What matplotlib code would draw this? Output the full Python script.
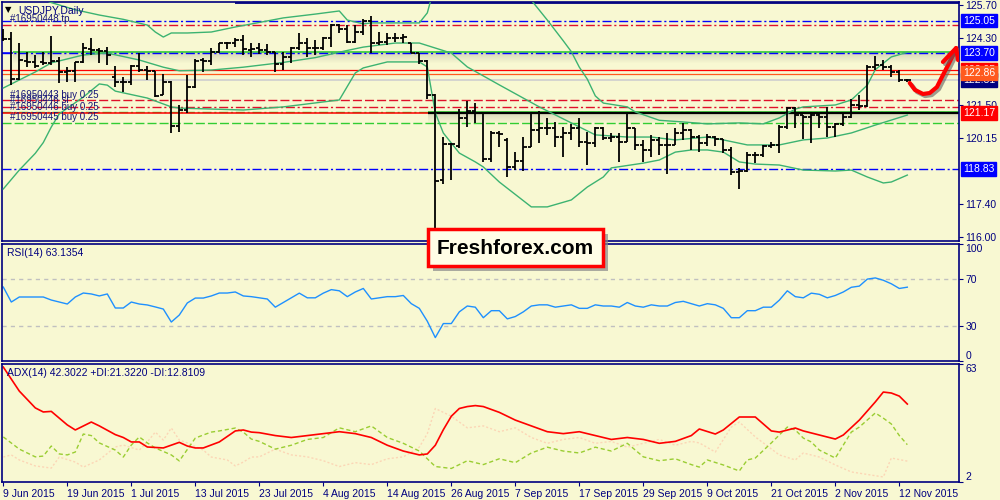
import numpy as np
import matplotlib.pyplot as plt
import matplotlib.patheffects as pe
from matplotlib.patches import Rectangle
from matplotlib.transforms import blended_transform_factory

plt.rcParams['font.family'] = ['Liberation Sans', 'DejaVu Sans']

# ---------------- data ----------------
opens = [124.35, 124.28, 122.61, 123.36, 123.33, 123.33, 123.29, 123.36, 122.91, 122.94,
         123.33, 123.85, 123.82, 123.79, 122.68, 122.49, 122.49, 123.15, 122.98, 122.94,
         121.95, 122.49, 120.64, 121.31, 122.26, 123.40, 123.37, 123.75, 124.10, 124.10,
         124.24, 123.82, 123.92, 123.82, 123.75, 123.22, 123.51, 123.89, 124.13, 123.89,
         123.89, 124.31, 124.86, 124.68, 124.17, 124.56, 125.05, 124.13, 124.17, 124.31,
         124.31, 124.13, 123.71, 123.37, 121.94, 118.38, 119.90, 119.80, 120.97, 121.25,
         121.17, 119.25, 120.33, 120.06, 118.91, 119.19, 119.78, 120.47, 120.54, 120.54,
         120.20, 120.36, 120.54, 119.99, 119.92, 120.54, 120.13, 120.20, 119.99, 120.54,
         119.85, 119.64, 120.06, 119.85, 119.85, 120.36, 120.47, 120.20, 119.94, 120.20,
         120.08, 119.64, 118.73, 118.77, 119.43, 119.43, 119.82, 119.85, 120.61, 121.38,
         121.10, 121.03, 121.10, 121.03, 120.59, 120.73, 121.03, 121.52, 121.48, 123.12,
         123.19, 123.09, 122.91, 122.56]
highs = [124.68, 124.56, 124.10, 123.75, 123.61, 123.72, 124.40, 123.54, 123.12, 123.33,
         124.13, 124.31, 123.89, 123.96, 123.15, 122.68, 123.19, 123.68, 123.15, 122.94,
         122.82, 122.54, 121.52, 122.77, 123.43, 123.47, 123.89, 124.13, 124.17, 124.31,
         124.45, 124.13, 124.13, 124.06, 123.75, 123.72, 123.96, 124.54, 124.31, 124.24,
         124.35, 124.91, 124.91, 124.86, 124.86, 125.10, 125.24, 124.56, 124.52, 124.52,
         124.49, 124.13, 123.71, 123.40, 121.98, 120.20, 119.94, 121.34, 121.70, 121.59,
         121.17, 120.45, 120.45, 120.13, 119.57, 120.20, 121.17, 121.28, 120.96, 120.82,
         120.61, 120.73, 120.96, 120.40, 120.61, 120.59, 120.33, 120.33, 121.17, 120.54,
         120.06, 120.27, 120.20, 120.36, 120.54, 120.75, 120.50, 120.25, 120.31, 120.22,
         120.10, 119.78, 118.87, 119.57, 119.57, 119.85, 119.99, 120.68, 121.42, 121.42,
         121.10, 121.20, 121.17, 121.42, 120.75, 121.17, 121.76, 121.94, 123.19, 123.57,
         123.40, 123.19, 122.98, 122.60]
lows = [124.21, 122.36, 122.56, 123.12, 123.08, 123.19, 123.19, 122.43, 122.49, 122.49,
        123.26, 123.61, 123.26, 123.19, 122.29, 122.08, 122.36, 122.91, 122.56, 121.84,
        121.94, 120.33, 120.40, 121.20, 122.22, 122.91, 123.19, 123.68, 123.85, 123.96,
        123.61, 123.54, 123.65, 123.61, 122.91, 122.98, 123.26, 123.82, 123.51, 123.61,
        123.82, 123.96, 124.52, 124.10, 124.10, 124.45, 123.71, 124.03, 124.03, 124.17,
        124.10, 123.68, 123.23, 121.77, 116.15, 118.20, 118.38, 119.71, 120.59, 120.78,
        119.15, 119.15, 119.78, 118.52, 118.80, 118.77, 119.75, 119.92, 120.27, 119.78,
        119.33, 120.06, 119.78, 119.01, 119.78, 120.06, 119.99, 119.15, 119.99, 119.64,
        119.15, 119.36, 119.43, 118.63, 119.85, 120.06, 119.64, 119.57, 119.81, 119.81,
        119.50, 118.59, 117.99, 118.73, 119.08, 119.36, 119.71, 119.53, 120.50, 120.54,
        120.08, 119.94, 120.54, 120.20, 120.20, 120.64, 120.96, 121.31, 121.45, 122.98,
        122.98, 122.68, 122.49, 122.50]
closes = [124.28, 122.61, 123.40, 123.33, 123.15, 123.29, 123.36, 122.91, 122.94, 123.33,
          123.89, 123.82, 123.79, 123.61, 122.49, 122.49, 123.15, 122.98, 122.95, 121.91,
          122.49, 120.64, 121.31, 122.26, 123.37, 123.37, 123.75, 124.10, 124.10, 124.24,
          123.85, 123.85, 123.82, 123.75, 123.22, 123.51, 123.89, 124.13, 123.89, 123.89,
          124.31, 124.86, 124.68, 124.17, 124.56, 125.05, 124.13, 124.17, 124.31, 124.31,
          124.35, 123.71, 123.37, 121.94, 118.35, 119.90, 119.89, 120.97, 121.25, 121.17,
          119.25, 120.33, 120.31, 118.91, 119.19, 119.78, 120.47, 120.54, 120.54, 120.20,
          120.36, 120.54, 119.99, 119.92, 120.54, 120.13, 120.20, 119.99, 120.54, 119.85,
          119.64, 120.06, 119.85, 119.85, 120.36, 120.47, 120.20, 119.94, 120.20, 120.08,
          119.64, 118.73, 118.77, 119.43, 119.43, 119.82, 119.85, 120.61, 121.38, 121.10,
          121.03, 121.10, 121.03, 120.59, 120.73, 121.03, 121.52, 121.48, 123.12, 123.19,
          123.09, 122.91, 122.56, 122.56]

# Bollinger bands (bar index, price)
bb_up_bars = [0, 3, 6, 9, 12, 15, 18, 19, 20, 21, 23, 26, 29, 35, 39, 42, 43, 45, 46, 52, 53,
              54, 56, 60, 64, 66, 68, 70, 71, 72, 73, 74, 75, 78, 79, 82, 85, 88, 92, 95, 97,
              99, 100, 104, 106, 108, 109, 111, 113]
bb_up = [126.45, 126.2, 125.80, 125.50, 125.28, 125.10, 124.86, 124.57, 124.36, 124.53, 124.53,
         124.57, 124.78, 125.16, 125.32, 125.45, 125.07, 124.91, 124.95, 124.95, 125.37,
         126.6, 127.5, 126.5, 126.1, 125.9, 125.07, 124.2, 123.75, 123.1, 122.6, 121.9, 121.60,
         121.44, 121.23, 120.88, 120.81, 120.73, 120.77, 120.73, 120.98, 121.35, 121.44,
         121.52, 121.73, 122.35, 123.0, 123.53, 123.72]
bb_mid_bars = [0, 4, 6, 10, 13, 17, 20, 22, 26, 30, 35, 39, 43, 45, 49, 52, 54, 56, 58, 62,
               67, 71, 74, 78, 81, 84, 88, 90, 93, 97, 100, 103, 106, 109, 113]
bb_mid = [122.23, 122.90, 123.28, 123.61, 123.69, 123.40, 123.10, 122.95, 122.98, 123.10,
          123.30, 123.50, 123.80, 123.94, 124.11, 124.11, 123.90, 123.69, 123.11, 122.36,
          121.44, 120.77, 120.27, 120.18, 120.18, 120.06, 120.18, 120.06, 119.85, 119.85,
          120.06, 120.14, 120.35, 120.68, 121.10]
bb_low_bars = [0, 2, 4, 5, 6, 7, 10, 12, 13, 14, 18, 21, 22, 30, 35, 42, 44, 45, 48, 52, 53,
               54, 55, 57, 59, 60, 62, 66, 68, 71, 73, 75, 76, 80, 82, 84, 86, 88, 90, 92, 94,
               97, 100, 104, 106, 108, 110, 111, 113]
bb_low = [118.01, 118.80, 119.5, 119.95, 120.6, 121.15, 121.85, 122.40, 122.35, 122.1,
          121.81, 121.44, 121.39, 121.31, 121.44, 121.73, 122.86, 123.07, 123.32, 123.32,
          123.11, 121.19, 120.35, 119.51, 119.14, 118.93, 118.3, 117.26, 117.26, 117.55,
          118.09, 118.51, 118.89, 119.09, 119.22, 119.55, 119.64, 119.64, 119.55, 119.14,
          119.05, 119.01, 118.80, 118.76, 118.80, 118.51, 118.26, 118.30, 118.59]

rsi = [63.2, 50.4, 54.7, 54.7, 54.7, 54.7, 52.1, 50.4, 48.7, 54.7, 58.1, 57.3, 55.6, 57.3,
       45.3, 45.3, 50.4, 48.7, 47.9, 46.2, 44.4, 33.3, 39.3, 49.6, 53.8, 53.8, 55.6, 58.1,
       58.1, 59.0, 55.6,
       55, 54, 53, 46, 50, 54, 58, 54, 54, 58, 61, 60, 55, 59, 62, 53, 54, 55, 55, 56,
       49, 45, 34, 20, 32, 32, 42, 47, 46, 37, 43, 43, 36, 38, 42, 47, 48, 48, 46, 47,
       48, 45, 45, 48, 47, 47, 46, 50, 47, 46, 48, 47, 47, 50, 51, 49, 47, 49, 48, 45,
       37, 37, 43, 43, 46, 46, 52, 60, 55, 54, 58, 57, 54, 56, 59, 63, 64, 70, 71, 69,
       66, 62, 63.1]

adx_bars = [0, 2, 4, 5, 6, 8, 9, 11, 12, 14, 15, 16, 17, 18, 20, 22, 23, 24, 25, 27, 29, 30,
            31, 32, 34, 36, 38, 40, 42, 44, 46, 48, 50, 52, 53, 54, 55, 56, 57, 58, 59, 60,
            62, 64, 66, 68, 70, 72, 74, 76, 78, 80, 82, 84, 86, 87, 89, 90, 92, 94, 96, 97,
            99, 100, 102, 104, 105, 107, 109, 110, 111, 112, 113]
adx = [61.4, 49, 40.3, 38.2, 38.5, 31.5, 28.9, 33.0, 31, 26.5, 25, 22.7, 22.7, 20.1, 19.6,
       22.5, 20.6, 19.6, 19.6, 22.7, 28.4, 28.9, 27.8, 27.5, 26, 25, 26, 27, 28, 27, 25, 21,
       18, 16, 16.5, 21, 29, 36, 40, 41, 41.5, 41, 38, 34, 31, 28, 27, 28, 26, 24, 25, 24,
       22, 23, 26, 29.4, 26.8, 28.9, 35.6, 35.6, 28.4, 27.8, 29.9, 28.4, 26.3, 24.2, 26.3,
       34.0, 43.4, 48.5, 48.0, 46.4, 42.3]
pdi_bars = [0, 2, 4, 5, 6, 7, 8, 9, 10, 11, 12, 14, 15, 16, 17, 18, 19, 21, 22, 24, 25, 26,
            27, 29, 30, 31, 32, 34, 36, 38, 40, 42, 44, 46, 48, 50, 52, 53, 54, 56, 58, 60,
            62, 64, 66, 68, 70, 72, 74, 76, 78, 80, 82, 84, 86, 87, 88, 90, 92, 93, 94, 96,
            98, 99, 100, 101, 102, 104, 106, 107, 109, 110, 111, 112, 113]
pdi = [25.3, 19, 15, 15.4, 20.6, 16.5, 16, 17.5, 26.8, 26, 22.2, 18.5, 14.9, 21.1, 25.3,
       22.2, 19.6, 16, 12.9, 24.7, 26.3, 27.8, 28.4, 29.9, 27.8, 24.2, 23, 19, 21, 24, 25,
       30, 28, 31, 25, 22, 18, 14, 10, 9, 13, 11, 14, 12, 17, 20, 18, 17, 20, 18, 22, 15,
       13, 14, 11, 9.7, 13.4, 10.8, 7.7, 13.4, 14.4, 22.2, 30.4, 28.9, 24.7, 22.7, 18.5,
       14.4, 27.8, 30.4, 37.7, 35, 32, 26, 21.3]
mdi_bars = [0, 1, 2, 4, 6, 7, 9, 10, 12, 14, 15, 17, 18, 19, 20, 21, 22, 23, 25, 26, 28, 29,
            30, 31, 32, 34, 36, 38, 40, 42, 44, 46, 48, 50, 52, 53, 54, 55, 56, 58, 60, 62,
            64, 66, 68, 70, 72, 74, 76, 78, 80, 82, 84, 86, 87, 89, 91, 92, 94, 97, 99, 100,
            102, 104, 106, 110, 111, 113]
mdi = [14.9, 16, 13.4, 10.3, 9.2, 14.9, 12.3, 9.7, 13.4, 20.1, 21.1, 18.5, 22.7, 27.8, 23.7,
       29.9, 23.7, 22.2, 18.5, 14.9, 13.4, 10.3, 12.3, 14.9, 15, 19, 16, 15, 13, 10, 12, 11,
       14, 15, 20, 27, 40, 38, 36, 30, 31, 28, 30, 25, 22, 24, 25, 22, 23, 20, 22, 24, 21,
       23, 22.2, 17.5, 30.4, 33, 25.3, 16, 13.4, 17, 14.9, 10.8, 7.2, 4.6, 14.4, 12.8]

date_labels = ['9 Jun 2015', '19 Jun 2015', '1 Jul 2015', '13 Jul 2015', '23 Jul 2015',
               '4 Aug 2015', '14 Aug 2015', '26 Aug 2015', '7 Sep 2015', '17 Sep 2015',
               '29 Sep 2015', '9 Oct 2015', '21 Oct 2015', '2 Nov 2015', '12 Nov 2015']
price_ticks = [125.70, 124.30, 121.50, 120.15, 117.40, 116.00]

# price label boxes on the right axis: (price, text, colour)
price_boxes = [(125.05, '125.05', '#0000ff'), (123.70, '123.70', '#0000ff'),
               (122.97, '122.95', '#ff0000'), (closes[-1], '122.81', '#000080'),
               (122.86, '122.86', '#ff5a1e'), (121.17, '121.17', '#ff0000'),
               (118.83, '118.83', '#0000ff')]

# order labels (price, text)
order_labels = [(125.11, '#16950448 tp'), (121.94, '#16950443 buy 0.25'),
                (121.73, '#16950446 sl'), (121.44, '#16950446 buy 0.25'),
                (121.02, '#16950445 buy 0.25')]

# hand drawn arrow
arrow_x = [113.3, 113.95, 114.96, 115.8, 116.7, 117.45, 118.1, 118.6, 119.1]
arrow_y = [122.44, 122.15, 121.98, 122.02, 122.27, 122.77, 123.19, 123.53, 123.90]
head_x = [117.45, 119.1, 119.34]
head_y = [123.32, 123.90, 123.40]

# ---------------- drawing ----------------
bg = '#f8f8d2'
navy = '#000080'
W, H = 1000, 500

fig = plt.figure(figsize=(10, 5), dpi=100, facecolor=bg)


def px_axes(top, bottom, left=2, right=959):
    a = fig.add_axes([left / W, 1 - bottom / H, (right - left) / W, (bottom - top) / H])
    a.set_facecolor(bg)
    for s in a.spines.values():
        s.set_color(navy)
        s.set_linewidth(1.2)
    a.set_xlim(-0.1625, 119.46)
    a.yaxis.tick_right()
    a.tick_params(axis='y', direction='out', length=3, color=navy, labelcolor=navy,
                  labelsize=7.5, pad=1.5)
    return a


ax = px_axes(2, 241)
ax_rsi = px_axes(244, 361)
ax_adx = px_axes(364, 482)

xs = np.arange(len(closes))
xr = 119.46
pxp = 1 / 23.92   # one pixel in price units

# ---- main panel ----
ax.set_ylim(115.834, 125.825)
ax.set_xticks([])
ax.set_yticks(price_ticks)
ax.set_yticklabels(['%.2f' % v for v in price_ticks])

dashdot = (0, (6.5, 2, 1.5, 2))
dashed = (0, (6.5, 2.2))

ax.hlines(125.78, 29, xr, color=navy, lw=1.3, zorder=2)
ax.axhline(125.05, color='#0000ff', lw=1, ls=dashdot, zorder=2)
ax.axhline(124.86, color='#e0102a', lw=1, ls=dashdot, zorder=2)
ax.axhline(122.97, color='#ff0000', lw=0.9, zorder=2)
ax.axhline(122.83, color='#ff5a1e', lw=0.9, zorder=2)
ax.axhline(closes[-1], color='#cfcfcf', lw=1.2, zorder=2)
ax.axhline(121.73, color='#e0102a', lw=1, ls=dashed, zorder=2)
ax.axhline(121.44, color='#e0102a', lw=1, ls=dashdot, zorder=2)
ax.axhline(121.21, color='#32cd32', lw=1, ls=dashdot, zorder=2)
ax.axhline(121.17, color='#ff0000', lw=1.1, zorder=2)
ax.axhline(120.75, color='#32cd32', lw=1, ls=dashed, zorder=2)
ax.axhline(118.83, color='#0000ff', lw=1, ls=dashdot, zorder=2)

# shadowed level lines
for level, start in [(123.70, 1.2), (121.17, 53.1)]:
    for k in range(10):
        ax.fill_between([start, xr], level - (k + 1) * pxp, level - k * pxp,
                        color='#404040', alpha=0.16 * (1 - k / 10), lw=0, zorder=1.5)
    for k in range(2):
        ax.fill_between([start, xr], level + (k + 1) * pxp, level + k * pxp,
                        color='#404040', alpha=0.08 * (1 - k / 2), lw=0, zorder=1.5)
ax.hlines(123.70, -0.2, 1.2, color='#0000ff', lw=1.1, zorder=2.5)
ax.axhline(123.70, color='#0000ff', lw=1, ls=dashdot, zorder=2.5)
ax.hlines(123.74, 1.2, xr, color='#32cd32', lw=1.2, zorder=2.4)
ax.hlines(121.23, 53.1, xr, color='#32cd32', lw=1.2, zorder=2.4)
ax.hlines(121.17, 53.1, xr, color='black', lw=1.6, zorder=2.5)

# bollinger bands
for bx, by in [(bb_up_bars, bb_up), (bb_mid_bars, bb_mid), (bb_low_bars, bb_low)]:
    ax.plot(bx, by, color='#3cb371', lw=1.0, zorder=3)

# OHLC bars
ax.vlines(xs, lows, highs, color='black', lw=1.3, zorder=5)
ax.hlines(opens, xs - 0.45, xs, color='black', lw=1.3, zorder=5)
ax.hlines(closes, xs, xs + 0.45, color='black', lw=1.3, zorder=5)

# labels for the orders
tr = blended_transform_factory(ax.transAxes, ax.transData)
for p, t in order_labels:
    ax.text(0.0084, p, t, transform=tr, fontsize=7, color='#141478', va='center',
            ha='left', zorder=6)

# right side price boxes
for z, (p, t, c) in enumerate(price_boxes):
    ax.text(1.0042, p, t, transform=tr, fontsize=7.5, color='white', va='center',
            ha='left', clip_on=False, zorder=10 + z,
            bbox=dict(boxstyle='square,pad=0.18', fc=c, ec=c))

# red hand-drawn arrow
shadow = [pe.SimpleLineShadow(offset=(1.5, -1.5), shadow_color='#606060', alpha=0.6),
          pe.Normal()]
ax.plot(arrow_x, arrow_y, color='#ff0000', lw=3.0, solid_capstyle='round',
        solid_joinstyle='round', path_effects=shadow, zorder=12)
ax.plot(head_x, head_y, color='#ff0000', lw=3.0, solid_capstyle='round',
        solid_joinstyle='round', path_effects=shadow, zorder=12)

# ---- RSI panel ----
ax_rsi.set_ylim(0, 100)
ax_rsi.set_xticks([])
ax_rsi.axhline(70, color='#c0c0c0', lw=1, ls=(0, (3, 3)))
ax_rsi.axhline(30, color='#c0c0c0', lw=1, ls=(0, (3, 3)))
ax_rsi.plot(xs, rsi, color='#1e90ff', lw=1.0)
ax_rsi.set_yticks([0, 30, 70, 100])
ax_rsi.set_yticklabels(['0', '30', '70', '100'])
labs = ax_rsi.get_yticklabels()
labs[0].set_va('bottom')
labs[-1].set_va('top')

# ---- ADX panel ----
ax_adx.set_ylim(2, 63)
ax_adx.plot(mdi_bars, mdi, color='#fcd6b6', lw=1.0, ls=(0, (1.5, 1.5)))
ax_adx.plot(pdi_bars, pdi, color='#9acd32', lw=1.0, ls=(0, (3, 2)))
ax_adx.plot(adx_bars, adx, color='#ff0000', lw=1.2)
ax_adx.set_yticks([2, 63])
ax_adx.set_yticklabels(['2', '63'])
labs = ax_adx.get_yticklabels()
labs[0].set_va('bottom')
labs[-1].set_va('top')
ax_adx.set_xticks(range(0, len(closes), 8))
ax_adx.set_xticklabels(date_labels)
ax_adx.tick_params(axis='x', direction='out', length=3, color=navy, labelcolor=navy,
                   labelsize=7.5, pad=2)
for lab in ax_adx.get_xticklabels():
    lab.set_ha('left')

# ---- captions ----
fig.text(5 / W, 1 - 10 / H, '\u25bc', fontsize=6, color='black', va='center',
         family=['DejaVu Sans'])
fig.text(18 / W, 1 - 11 / H, 'USDJPY,Daily', fontsize=7.5, color=navy, va='center')
fig.text(7 / W, 1 - 253 / H, 'RSI(14) 63.1354', fontsize=7.5, color=navy, va='center')
fig.text(7 / W, 1 - 373 / H, 'ADX(14) 42.3022 +DI:21.3220 -DI:12.8109', fontsize=7.5,
         color=navy, va='center')

# ---- watermark box ----
fig.add_artist(Rectangle((433 / W, 1 - 271 / H), 175 / W, 37 / H, transform=fig.transFigure,
                         fc='#8a8a8a', ec='none', alpha=0.7, zorder=19))
fig.add_artist(Rectangle((428 / W, 1 - 266 / H), 175 / W, 37 / H, transform=fig.transFigure,
                         fc='#fffde6', ec='#ff0000', lw=2.5, zorder=20))
fig.text(515.5 / W, 1 - 248 / H, 'Freshforex.com', ha='center', va='center', fontsize=15,
         fontweight='bold', color='black', zorder=21)

fig.savefig('out.png', dpi=100, facecolor=bg)
